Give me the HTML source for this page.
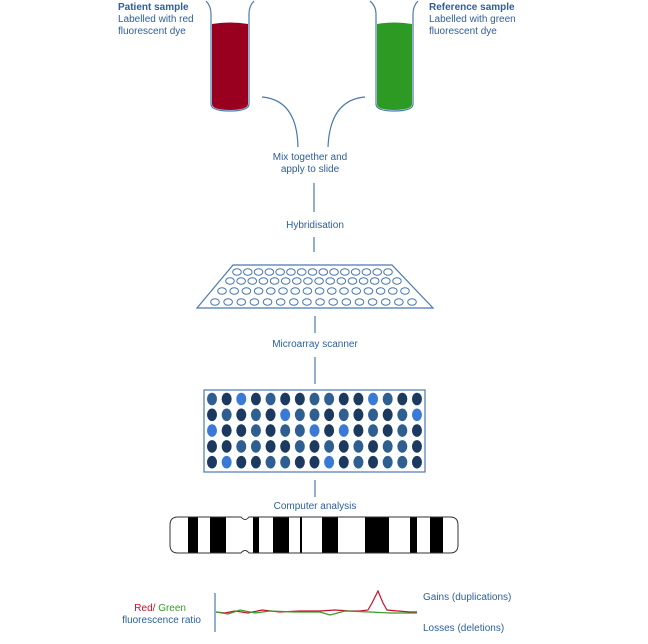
<!DOCTYPE html>
<html><head><meta charset="utf-8"><style>
html,body{margin:0;padding:0;background:#fff;width:648px;height:644px;overflow:hidden}
text{font-family:"Liberation Sans",sans-serif;font-size:10px;fill:#2d5f9c}
</style></head><body>
<svg id="s" width="648" height="644" viewBox="0 0 648 644" xmlns="http://www.w3.org/2000/svg">
<path d="M212,24 Q230,21 248,24 L248,104 Q248,110 230,110 Q212,110 212,104 Z" fill="#99001f"/>
<path d="M206,1 Q211,6 211,14 L211,104 Q211,111 230,111 Q249,111 249,104 L249,14 Q249,6 254,1" fill="none" stroke="#4a78b0" stroke-width="1.2"/>
<path d="M377,24 Q394,21 412,24 L412,104 Q412,110 394,110 Q377,110 377,104 Z" fill="#2c9a23"/>
<path d="M370,1 Q376,6 376,14 L376,104 Q376,111 394,111 Q413,111 413,104 L413,14 Q413,6 418,1" fill="none" stroke="#4a78b0" stroke-width="1.2"/>
<text x="118" y="10" font-weight="bold">Patient sample</text>
<text x="118" y="22">Labelled with red</text>
<text x="118" y="34">fluorescent dye</text>
<text x="429" y="10" font-weight="bold">Reference sample</text>
<text x="429" y="22">Labelled with green</text>
<text x="429" y="34">fluorescent dye</text>
<path d="M262,97 Q297,100 298,147" fill="none" stroke="#4a78b0" stroke-width="1.2"/>
<path d="M365,97 Q330,100 328,147" fill="none" stroke="#4a78b0" stroke-width="1.2"/>
<text x="310" y="160" text-anchor="middle">Mix together and</text>
<text x="310" y="172" text-anchor="middle">apply to slide</text>
<line x1="314" y1="183" x2="314" y2="212" stroke="#4a78b0" stroke-width="1.2"/>
<text x="315" y="228" text-anchor="middle">Hybridisation</text>
<line x1="314" y1="237" x2="314" y2="252" stroke="#4a78b0" stroke-width="1.2"/>
<path d="M233,265 L392,265 L433,308 L197,308 Z" fill="none" stroke="#4a78b0" stroke-width="1.2"/>
<g id="tray" fill="none" stroke="#4a78b0" stroke-width="1"></g>
<line x1="315" y1="316" x2="315" y2="333" stroke="#4a78b0" stroke-width="1.2"/>
<text x="315" y="347" text-anchor="middle">Microarray scanner</text>
<line x1="315" y1="357" x2="315" y2="384" stroke="#4a78b0" stroke-width="1.2"/>
<rect x="204" y="390" width="221" height="82" fill="none" stroke="#4a78b0" stroke-width="1.2"/>
<g id="grid"></g>
<line x1="315" y1="480" x2="315" y2="497" stroke="#4a78b0" stroke-width="1.2"/>
<text x="315" y="509" text-anchor="middle">Computer analysis</text>
<g>
<rect x="188" y="517" width="10" height="36" fill="#000"/>
<rect x="210" y="517" width="16" height="36" fill="#000"/>
<rect x="253" y="517" width="6" height="36" fill="#000"/>
<rect x="273" y="517" width="16" height="36" fill="#000"/>
<rect x="300" y="517" width="2" height="36" fill="#000"/>
<rect x="322" y="517" width="16" height="36" fill="#000"/>
<rect x="365" y="517" width="24" height="36" fill="#000"/>
<rect x="410" y="517" width="7" height="36" fill="#000"/>
<rect x="430" y="517" width="13" height="36" fill="#000"/>
<path d="M178,517 L241,517 Q245,522 249,517 L450,517 Q458,517 458,525 L458,545 Q458,553 450,553 L249,553 Q245,548 241,553 L178,553 Q170,553 170,545 L170,525 Q170,517 178,517 Z" fill="none" stroke="#333" stroke-width="1"/>
</g>
<line x1="215" y1="593" x2="215" y2="632" stroke="#4a78b0" stroke-width="1.2"/>
<path d="M216,612 L225,613 L235,611 L248,613 L262,610 L280,612 L300,611 L320,611 L335,610 L350,611 L360,611 L368,610 L372,603 L378,591 L383,603 L387,610 L398,611 L410,612 L417,612" fill="none" stroke="#c8102e" stroke-width="1.2"/>
<path d="M216,612 L228,614 L240,610 L255,613 L270,611 L295,612 L320,612 L330,615 L345,611 L370,612 L390,613 L405,613 L417,613" fill="none" stroke="#3a9a2a" stroke-width="1.2"/>
<text x="186" y="611" text-anchor="end"><tspan style="fill:#c8102e">Red/</tspan> <tspan style="fill:#3a9a2a">Green</tspan></text>
<text x="201" y="623" text-anchor="end">fluorescence ratio</text>
<text x="423" y="600">Gains (duplications)</text>
<text x="423" y="631">Losses (deletions)</text>
</svg>
<script>
var NS="http://www.w3.org/2000/svg";
var tray=document.getElementById("tray");
var rows=[[237,388,15,272],[230,397,16,281],[222,405,16,291],[215,412,16,302]];
rows.forEach(function(r){var step=(r[1]-r[0])/(r[2]-1);for(var i=0;i<r[2];i++){var e=document.createElementNS(NS,"ellipse");e.setAttribute("cx",r[0]+i*step);e.setAttribute("cy",r[3]);e.setAttribute("rx",4.3);e.setAttribute("ry",3.3);tray.appendChild(e);}});
var g=document.getElementById("grid");
var pat=["MDLDMDDMMDDLMDD","DMDMDLMMDMDMDML","LDDMDMMLDLDMDMD","DDMMDDMDMDMDMMD","DLDDMMDDLDMDMMD"];
var col={D:"#1c3a60",M:"#2f5f90",L:"#3a7ad6"};
for(var r=0;r<5;r++)for(var c=0;c<15;c++){var e=document.createElementNS(NS,"ellipse");e.setAttribute("cx",212+c*14.64);e.setAttribute("cy",399+r*15.8);e.setAttribute("rx",5);e.setAttribute("ry",6.3);e.setAttribute("fill",col[pat[r][c]]);g.appendChild(e);}
</script>
</body></html>
